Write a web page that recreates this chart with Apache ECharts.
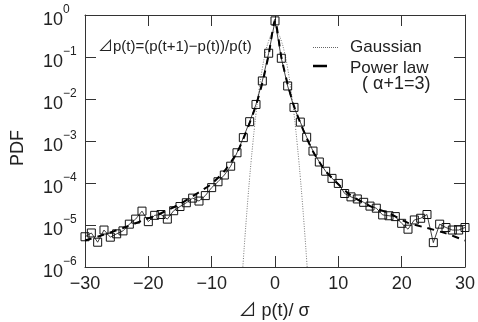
<!DOCTYPE html>
<html><head><meta charset="utf-8">
<script src="https://cdn.jsdelivr.net/npm/echarts@6/dist/echarts.min.js"></script>
<style>html,body{margin:0;padding:0;background:#fff}#c{width:478px;height:322px}</style>
</head><body><div id="c"></div>
<script>
// Empirical PDF of normalized returns (x = Δp(t)/σ), values as log10(PDF)
const dataX = [-30,-29,-28,-27,-26,-25,-24,-23,-22,-21,-20,-19,-18,-17,-16,-15,-14,-13,-12,-11,-10,-9,-8,-7,-6,-5,-4,-3,-2,-1,0,1,2,3,4,5,6,7,8,9,10,11,12,13,14,15,16,17,18,19,20,21,22,23,24,25,26,27,28,29,30];
const dataLogPdf = [-5.28,-5.19,-5.41,-5.12,-5.29,-5.21,-5.14,-4.98,-4.86,-4.67,-4.92,-4.77,-4.75,-4.86,-4.66,-4.56,-4.47,-4.36,-4.43,-4.30,-4.11,-3.97,-3.81,-3.60,-3.28,-2.92,-2.54,-2.13,-1.57,-0.91,-0.14,-1.03,-1.69,-2.20,-2.55,-2.91,-3.24,-3.50,-3.72,-3.89,-4.01,-4.25,-4.33,-4.38,-4.46,-4.55,-4.60,-4.76,-4.78,-4.80,-4.96,-5.10,-4.88,-4.84,-4.75,-5.42,-4.98,-5.06,-5.12,-5.12,-5.06];

// Power-law guide line (dashed)
const powerX = [-30,-27,-24,-21,-18,-15,-12,-10,-8,-6,-5,-4,-3,-2,-1,0,1,2,3,4,5,6,7,8,10,12,15,18,21,24,27,30];
const powerLogPdf = [-5.37,-5.23,-5.07,-4.90,-4.72,-4.50,-4.22,-4.02,-3.72,-3.28,-2.95,-2.57,-2.15,-1.62,-0.95,-0.12,-1.00,-1.65,-2.17,-2.57,-2.93,-3.25,-3.50,-3.72,-4.03,-4.30,-4.55,-4.72,-4.95,-5.07,-5.20,-5.37];

// Gaussian guide line (dotted)
const gaussX = [-5.1,-5,-4.75,-4.5,-4.25,-4,-3.75,-3.5,-3.25,-3,-2.75,-2.5,-2,-1.5,-1,-0.5,0,0.5,1,1.5,2,2.5,2.75,3,3.25,3.5,3.75,4,4.25,4.5,4.75,5,5.1];
const gaussLogPdf = [-6.05,-5.83,-5.30,-4.80,-4.32,-3.87,-3.45,-3.06,-2.69,-2.35,-2.04,-1.76,-1.27,-0.89,-0.62,-0.45,-0.40,-0.45,-0.62,-0.89,-1.27,-1.76,-2.04,-2.35,-2.69,-3.06,-3.45,-3.87,-4.32,-4.80,-5.30,-5.83,-6.05];

const texts = {
  yName: 'PDF',
  xName: '⊿ p(t)/ σ',
  note: '⊿p(t)=(p(t+1)−p(t))/p(t)',
  leg1: 'Gaussian',
  leg2: 'Power law',
  leg3: '( α+1=3)'
};

const toPairs = (xs, ls) => xs.map((x, i) => [x, Math.pow(10, ls[i])]);

const FONT = '"Liberation Sans", "Noto Sans CJK JP", sans-serif';
const TXT = '#222';
const AX = '#333';

const chart = echarts.init(document.getElementById('c'), null, {renderer: 'canvas'});
const tickStyle = {show: true, inside: true, length: 11, lineStyle: {color: AX, width: 1}};
const option = {
  animation: false,
  backgroundColor: '#fff',
  textStyle: {fontFamily: FONT},
  grid: {left: 85, right: 12, top: 15, bottom: 55, show: false},
  xAxis: [{
    type: 'value', min: -30, max: 30, interval: 10, position: 'bottom',
    axisLine: {show: true, onZero: false, lineStyle: {color: AX, width: 1}},
    axisTick: tickStyle,
    splitLine: {show: false},
    axisLabel: {margin: 8, fontSize: 18, color: TXT, fontFamily: FONT,
      formatter: v => (v < 0 ? '−' + (-v) : String(v))}
  }, {
    type: 'value', min: -30, max: 30, interval: 10, position: 'top',
    axisLine: {show: true, onZero: false, lineStyle: {color: AX, width: 1}},
    axisTick: tickStyle, axisLabel: {show: false}, splitLine: {show: false}
  }],
  yAxis: [{
    type: 'log', logBase: 10, min: 1e-6, max: 1, interval: 1, position: 'left',
    axisLine: {show: true, onZero: false, lineStyle: {color: AX, width: 1}},
    axisTick: tickStyle,
    splitLine: {show: false},
    minorTick: {show: false},
    axisLabel: {margin: 42, align: 'left', color: TXT, fontFamily: FONT,
      formatter: v => {
        const e = Math.round(Math.log10(v));
        return '{s|' + (e < 0 ? '−' + (-e) : e) + '}\n{b|10}';
      },
      rich: {
        b: {fontSize: 18, lineHeight: 11, color: TXT, fontFamily: FONT},
        s: {fontSize: 12, lineHeight: 11, padding: [0, 0, 0, 20], color: TXT, fontFamily: FONT}
      }
    }
  }, {
    type: 'log', logBase: 10, min: 1e-6, max: 1, interval: 1, position: 'right',
    axisLine: {show: true, onZero: false, lineStyle: {color: AX, width: 1}},
    axisTick: tickStyle, axisLabel: {show: false}, splitLine: {show: false}
  }],
  series: [{
    name: 'Gaussian', type: 'line', data: toPairs(gaussX, gaussLogPdf),
    smooth: true, showSymbol: false, symbol: 'none', clip: true,
    lineStyle: {color: '#777', width: 1, type: [1, 1.5]}, z: 2
  }, {
    name: 'data', type: 'line', data: toPairs(dataX, dataLogPdf),
    symbol: 'rect', symbolSize: 8, showAllSymbol: true,
    itemStyle: {color: 'rgba(255,255,255,0)', borderColor: '#111', borderWidth: 1},
    lineStyle: {color: '#111', width: 0.8}, z: 3
  }, {
    name: 'Power law', type: 'line', data: toPairs(powerX, powerLogPdf),
    smooth: 0.2, showSymbol: false, symbol: 'none',
    lineStyle: {color: '#000', width: 2, type: [7, 6]}, z: 4
  }],
  graphic: [
    {type: 'text', x: 18, y: 148, rotation: Math.PI / 2,
      style: {text: texts.yName, fontSize: 18, fontFamily: FONT, fill: TXT, align: 'center', verticalAlign: 'middle'}},
    {type: 'text', x: 274, y: 311,
      style: {text: texts.xName, fontSize: 18, fontFamily: FONT, fill: TXT, align: 'center', verticalAlign: 'middle'}},
    {type: 'text', x: 98, y: 47,
      style: {text: texts.note, fontSize: 15, fontFamily: FONT, fill: TXT, align: 'left', verticalAlign: 'middle'}},
    {type: 'line', shape: {x1: 313, y1: 47.5, x2: 339, y2: 47.5}, style: {stroke: '#666', lineWidth: 1, lineDash: [1, 1]}},
    {type: 'line', shape: {x1: 313, y1: 66, x2: 327, y2: 66}, style: {stroke: '#000', lineWidth: 2.5}},
    {type: 'text', x: 350, y: 47.5,
      style: {text: texts.leg1, fontSize: 17, fontFamily: FONT, fill: TXT, align: 'left', verticalAlign: 'middle'}},
    {type: 'text', x: 350, y: 68.5,
      style: {text: texts.leg2, fontSize: 17, fontFamily: FONT, fill: TXT, align: 'left', verticalAlign: 'middle'}},
    {type: 'text', x: 362, y: 84,
      style: {text: texts.leg3, fontSize: 18, fontFamily: FONT, fill: TXT, align: 'left', verticalAlign: 'middle'}}
  ]
};
chart.setOption(option);
</script>
</body></html>
